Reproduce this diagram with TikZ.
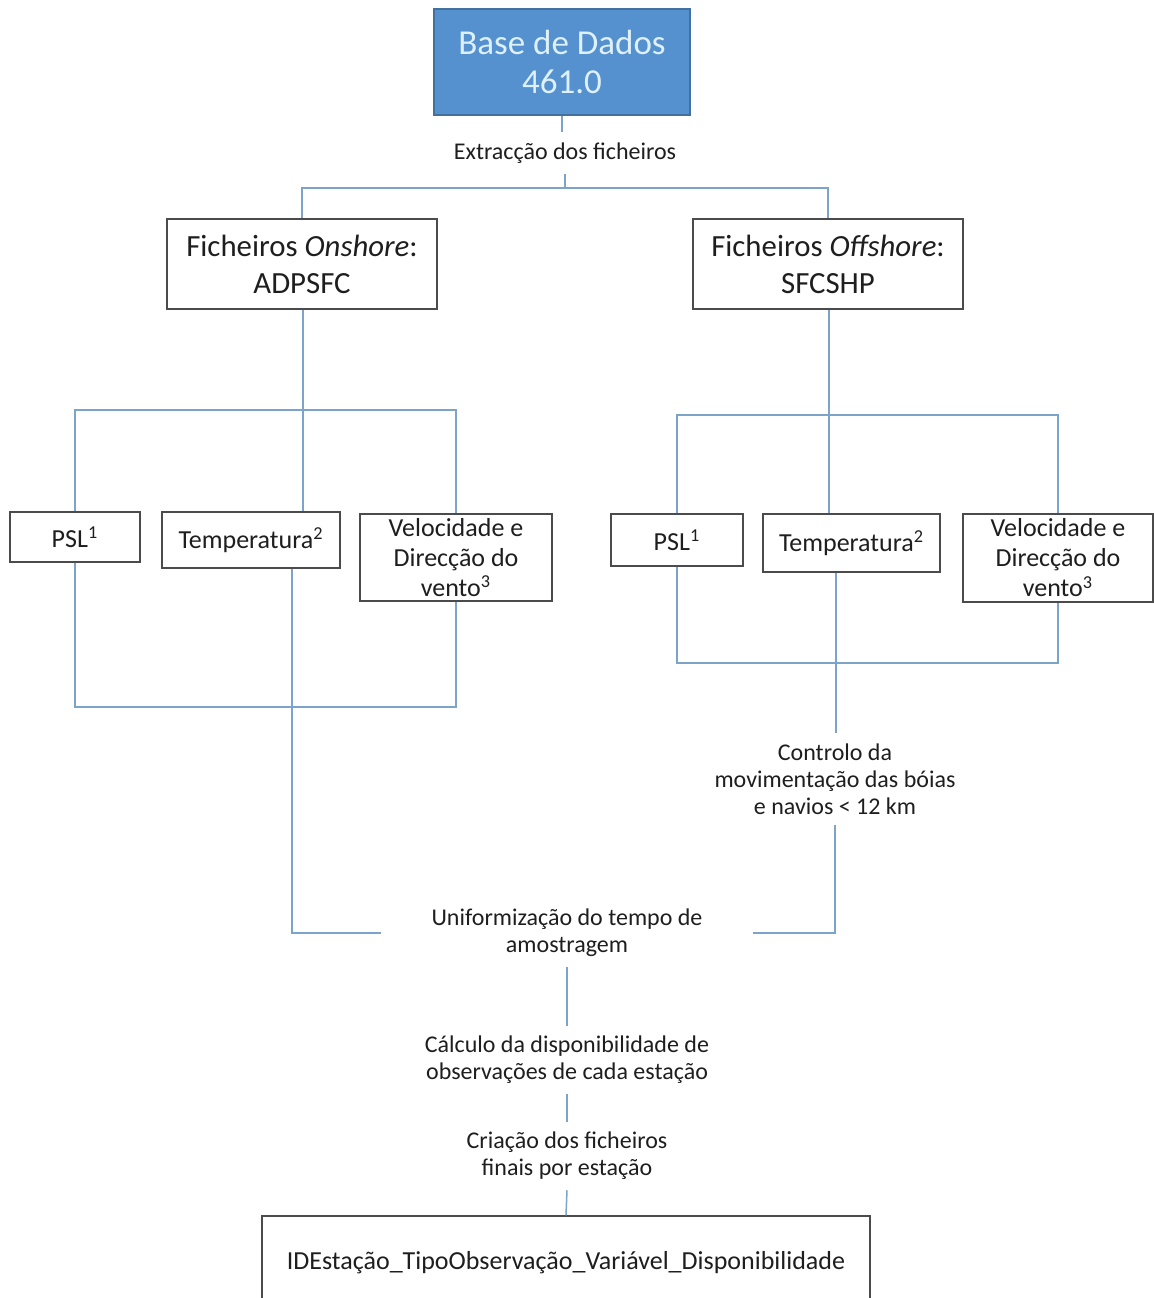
\documentclass[tikz,border=0pt]{standalone}
\usepackage{fontspec}
\setmainfont{Carlito}
\definecolor{boxblue}{RGB}{85,145,207}
\definecolor{boxblueborder}{RGB}{65,113,156}
\definecolor{dbtext}{RGB}{222,240,250}
\definecolor{connc}{RGB}{124,163,200}
\definecolor{boxline}{RGB}{75,75,75}
\definecolor{txt}{RGB}{30,30,30}
\begin{document}
\begin{tikzpicture}[x=0.5pt,y=-0.5pt,
  box/.style={draw=boxline, line width=0.65pt, fill=white, align=center, inner sep=0pt, text=txt, font=\fontsize{13}{15}\selectfont},
  bigbox/.style={box, font=\fontsize{15.4}{18.5}\selectfont},
  dbbox/.style={draw=boxblueborder, fill=boxblue, text=dbtext, line width=0.8pt, align=center, inner sep=0pt, font=\fontsize{17.5}{19.5}\selectfont},
  lbl/.style={align=center, inner sep=5pt, text=txt, font=\fontsize{12}{13.5}\selectfont},
  conn/.style={draw=connc, line width=0.75pt}]
\useasboundingbox (0,0) rectangle (1154,1298);
% boxes
\node[dbbox, minimum width=128pt, minimum height=53pt] (db) at (562,62) {Base de Dados\\461.0};
\node[bigbox, minimum width=135pt, minimum height=45pt] (on) at (302,264) {Ficheiros \textit{Onshore}:\\ADPSFC};
\node[bigbox, minimum width=135pt, minimum height=45pt] (off) at (828,264) {Ficheiros \textit{Offshore}:\\SFCSHP};
\node[box, minimum width=65pt, minimum height=25pt] (psl1) at (75,537) {PSL\textsuperscript{1}};
\node[box, minimum width=89pt, minimum height=28pt] (tmp1) at (251,540) {Temperatura\textsuperscript{2}};
\node[box, minimum width=96pt, minimum height=43.5pt] (vel1) at (456,557.5) {Velocidade e\\Direcção do\\vento\textsuperscript{3}};
\node[box, minimum width=66pt, minimum height=26pt] (psl2) at (677,540) {PSL\textsuperscript{1}};
\node[box, minimum width=88.5pt, minimum height=29pt] (tmp2) at (851.5,543) {Temperatura\textsuperscript{2}};
\node[box, minimum width=95pt, minimum height=44pt] (vel2) at (1058,558) {Velocidade e\\Direcção do\\vento\textsuperscript{3}};
\node[box, minimum width=304pt, minimum height=47pt] (final) at (566,1263) {IDEstação\_TipoObservação\_Variável\_Disponibilidade};
% labels
\node[lbl] (ext) at (565,153) {Extracção dos ficheiros};
\node[lbl] (ctrl) at (835,779) {Controlo da\\movimentação das bóias\\e navios < 12 km};
\node[lbl] (unif) at (567,933) {Uniformização do tempo de\\amostragem};
\node[lbl] (calc) at (567,1060) {Cálculo da disponibilidade de\\observações de cada estação};
\node[lbl] (cria) at (567,1156) {Criação dos ficheiros\\finais por estação};
% junctions
\coordinate (j1) at (565,188);
\coordinate (j2) at (303,410);
\coordinate (j3) at (292,707);
\coordinate (j4) at (829,415);
\coordinate (j5) at (836,663);
% connectors
\draw[conn] (db.south) -- (db.south |- ext.north);
\draw[conn] (ext.south) -- (j1);
\draw[conn] (on.north) |- (j1) -| (off.north);
\draw[conn] (on.south -| j2) -- (j2);
\draw[conn] (psl1.north) |- (j2) -| (vel1.north);
\draw[conn] (j2) -- (j2 |- tmp1.north);
\draw[conn] (psl1.south) |- (j3) -| (vel1.south);
\draw[conn] (j3 |- tmp1.south) -- (j3);
\draw[conn, shorten >=20pt] (j3) |- (unif.west);
\draw[conn] (off.south -| j4) -- (j4);
\draw[conn] (psl2.north) |- (j4) -| (vel2.north);
\draw[conn] (j4) -- (j4 |- tmp2.north);
\draw[conn] (psl2.south) |- (j5) -| (vel2.south);
\draw[conn] (j5 |- tmp2.south) -- (j5);
\draw[conn] (j5) -- (j5 |- ctrl.north);
\draw[conn, shorten >=20pt] (ctrl.south) |- (unif.east);
\draw[conn] (unif.south) -- (calc.north);
\draw[conn] (calc.south) -- (cria.north);
\draw[conn] (cria.south) -- (final.north);
\end{tikzpicture}
\end{document}
